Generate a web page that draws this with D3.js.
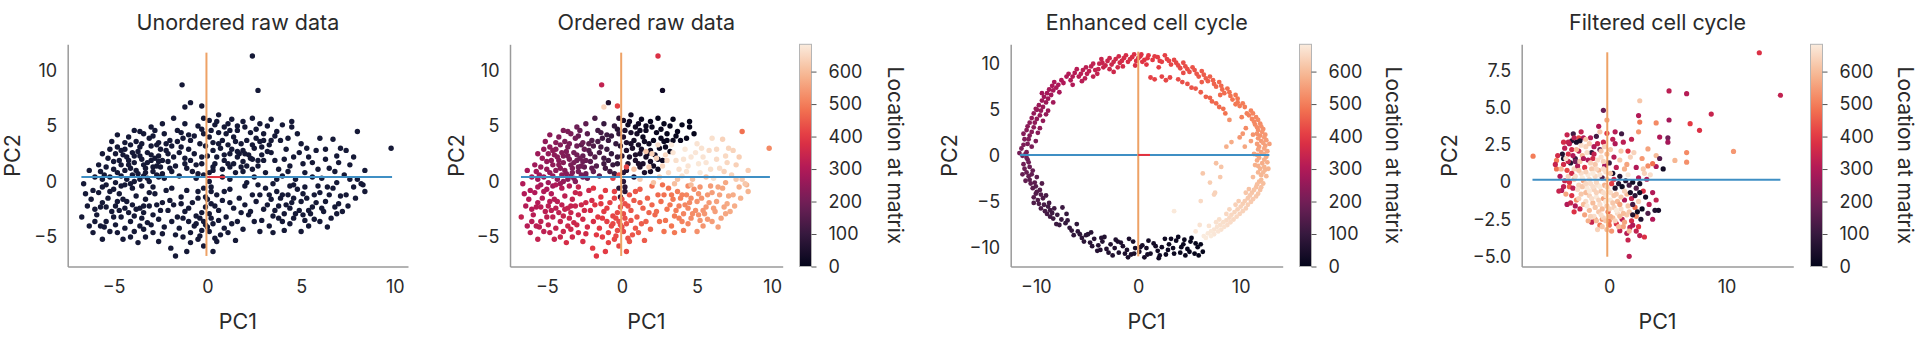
<!DOCTYPE html>
<html>
<head>
<meta charset="utf-8">
<script src="https://cdn.jsdelivr.net/npm/d3@7"></script>
<style>
  body { margin: 0; background: #fff; }
  text { font-family: Inter, "Open Sans", sans-serif; fill: #2a2a2a; }
</style>
</head>
<body>
<script>
// panel titles
var titles = ["Unordered raw data", "Ordered raw data", "Enhanced cell cycle", "Filtered cell cycle"];

// raw PCA projection: [PC1, PC2, location at matrix] (same cells in the first two panels)
var rawCells = [
  [0.1,5.5,40],[0.4,5.1,25],[0.9,4.9,30],[1.3,5.6,15],[0.6,4.4,45],[0.1,4.0,60],[0.8,3.7,35],[1.4,4.0,20],[1.9,5.4,10],[2.8,5.2,8],
  [3.4,5.6,5],[4.5,5.4,3],[4.5,4.9,6],[4.8,4.3,4],[4.3,3.9,9],[3.9,3.7,12],[3.4,3.7,14],[2.9,3.1,18],[2.5,3.0,22],[2.1,3.7,17],
  [1.8,3.4,28],[1.9,2.8,33],[2.2,2.4,26],[1.9,1.8,38],[2.4,1.1,19],[1.9,0.9,42],[3.2,2.7,11],[0.3,2.8,55],[1.2,2.5,48],[0.4,1.6,62],
  [0.1,0.8,70],[0.1,0.0,75],[0.2,-0.5,78],[-0.2,-0.6,82],[0.2,-0.9,74],[-0.1,-1.4,80],[1.2,1.3,44],[1.5,0.8,50],[0.7,3.0,52],[1.0,4.3,36],
  [1.6,4.6,24],[2.3,4.4,16],[2.6,3.9,13],[3.0,4.3,9],[1.1,3.3,41],[0.5,2.2,58],[0.9,1.9,54],[1.6,2.2,39],[2.7,1.9,21],[0.3,3.5,57],
  [-0.3,4.7,66],[-0.1,3.2,68],[1.4,1.6,46],[2.0,4.9,12],[3.7,4.5,7],[0.6,6.0,32],[1.1,5.2,29],[-0.9,7.1,60],[2.7,8.2,30],[0.8,0.4,64],
  [0.5,5.4,34],[1.6,5.0,20],[2.4,5.7,8],[1.2,4.6,26],[0.2,4.6,50],[2.6,4.7,11],[3.2,5.0,7],[4.0,5.1,4],[3.6,4.1,10],[2.8,3.6,15],
  [1.5,3.6,30],[0.6,3.4,46],[1.3,2.9,40],[2.4,2.0,24],[1.1,1.6,50],[0.3,1.0,66],[2.1,1.4,30],[3.0,3.7,12],[0.9,2.4,52],[1.7,2.5,36],
  [0.0,2.3,70],[-0.3,1.6,86],
  [-1.6,4.6,120],[-0.9,3.7,105],[-2.0,3.7,140],[-1.4,3.1,125],[-0.7,2.5,98],[-2.2,2.8,150],[-1.8,2.2,145],[-0.9,1.9,110],[-2.5,1.3,170],[-1.2,5.2,100],
  [-0.5,5.0,92],[-2.3,4.3,155],[-1.0,4.2,112],[-0.4,3.4,95],[-1.5,2.6,130],[-2.7,3.3,165],[-2.1,1.8,160],[-1.1,1.2,118],[-0.6,1.5,102],[-1.9,0.9,175],
  [-0.3,2.2,96],[-1.3,3.9,115],[-2.6,2.3,172],[-2.9,4.1,180],[-1.7,1.4,148],[-0.8,0.9,122],[-2.4,0.7,185],[-1.0,2.9,108],[-0.2,4.3,90],[-1.9,3.2,142],
  [-2.8,4.6,176],[-2.2,3.4,158],[-1.6,3.6,132],[-1.2,2.1,120],[-2.0,1.2,168],[-2.3,0.3,182],[-1.5,0.5,160],[-3.0,4.9,190],[-2.4,5.2,165],[-1.8,5.7,130],
  [-1.4,4.4,124],[-0.7,4.1,100],[-0.2,5.7,80],[-2.1,2.5,150],[-1.2,1.6,116],[-0.5,0.7,112],
  [-4.2,4.0,225],[-3.6,3.1,210],[-4.7,1.9,245],[-5.4,1.3,262],[-5.1,3.6,250],[-3.2,2.6,200],[-3.9,2.3,222],[-4.4,2.9,235],[-3.0,1.9,195],[-3.4,1.5,212],
  [-4.1,1.2,240],[-4.8,0.8,258],[-5.2,0.4,268],[-3.7,0.7,230],[-2.9,0.9,205],[-3.2,0.3,226],[-4.3,0.2,252],[-4.9,-0.1,272],[-5.6,0.2,275],[-3.8,3.6,215],
  [-3.1,3.9,198],[-2.6,3.5,188],[-4.6,1.5,248],[-3.5,2.0,218],[-2.8,2.1,192],[-3.9,1.7,232],[-4.5,2.4,242],[-5.0,1.8,256],[-3.3,1.2,214],[-2.7,1.4,196],
  [-3.6,0.2,236],[-2.6,0.4,204],[-4.0,0.6,244],[-5.4,-0.3,280],[-4.6,-0.4,270],[-3.0,3.2,194],[-3.7,2.7,220],[-4.9,2.5,254],[-2.5,2.9,186],[-3.4,4.3,208],
  [-4.4,3.5,238],[-5.7,0.9,276],[-3.1,0.0,228],[-2.4,1.9,184],[-4.2,1.9,234],
  [-4.4,1.0,246],[-4.0,2.6,228],[-3.5,3.4,212],[-3.0,2.4,197],[-2.7,0.6,201],[-3.3,0.8,219],[-3.8,1.0,233],[-4.2,1.5,238],[-4.6,0.5,258],[-5.0,1.1,260],
  [-5.3,2.1,262],[-5.5,0.6,270],[-4.8,3.1,246],[-4.1,3.3,226],[-3.6,4.5,212],[-3.9,0.0,250],[-4.6,2.8,244],[-5.8,1.5,272],[-3.2,1.7,210],[-2.6,1.8,190],
  [-3.6,2.3,216],[-4.3,2.2,236],[-5.2,2.9,254],[-3.9,4.6,218],[-4.8,4.2,240],[-3.4,0.5,224],[-4.1,-0.2,262],[-2.9,1.3,200],[-5.6,2.5,266],[-6.0,0.4,282],
  [-6.3,1.0,284],
  [-6.6,-0.2,300],[-5.6,-0.5,296],[-6.2,-1.6,305],[-4.9,-2.2,318],[-4.2,-2.8,328],[-3.1,-2.2,340],[-3.6,-4.0,352],[-6.7,-3.2,330],[-6.3,-4.0,312],[-5.6,-5.2,332],
  [-3.7,-5.5,368],[-5.8,-1.0,298],[-5.3,-1.5,308],[-4.7,-1.1,302],[-4.3,-1.8,316],[-3.8,-1.3,322],[-3.3,-1.6,334],[-2.8,-1.1,345],[-2.4,-1.9,356],[-5.1,-2.7,320],
  [-4.6,-3.2,326],[-3.9,-3.1,338],[-3.4,-2.8,342],[-2.9,-3.0,350],[-5.7,-2.3,310],[-5.9,-3.0,314],[-5.4,-3.6,324],[-4.9,-3.9,330],[-4.4,-4.2,336],[-3.2,-3.7,348],
  [-2.6,-3.4,358],[-2.1,-2.6,362],[-4.0,-0.6,306],[-3.5,-0.4,312],[-2.9,-0.5,340],[-4.4,-0.3,300],[-5.0,-0.7,294],[-6.0,-2.5,308],[-4.1,-5.0,344],[-2.9,-4.6,360],
  [-2.3,-4.1,366],[-5.2,-4.5,322],[-3.6,-2.4,336],[-4.7,-2.6,318],[-2.2,-0.8,350],[-1.9,-3.6,372],[-4.5,-5.2,340],[-3.3,-5.0,356],[-6.1,-0.8,302],[-5.5,-4.1,318],
  [-6.4,-2.2,306],[-6.0,-3.6,312],[-5.4,-2.3,314],[-5.0,-3.2,322],[-4.5,-1.6,310],[-4.0,-2.1,326],[-3.5,-3.3,344],[-3.0,-3.9,352],[-2.5,-2.6,358],[-2.0,-1.7,364],
  [-4.8,-4.6,332],[-3.9,-4.5,346],[-5.7,-4.0,318],[-6.5,-1.1,300],[-5.2,-0.9,300],[-3.4,-2.2,336],[-2.7,-2.1,352],[-4.1,-3.6,338],[-5.6,-1.9,306],[-3.8,-2.5,332],
  [-2.4,-4.7,368],[-4.4,-2.4,320],[-6.1,-4.6,320],[-3.1,-1.0,338],[-4.8,-1.8,312],[-2.6,-5.4,372],[-3.4,-4.3,350],
  [-1.95,-6.0,400],[-1.7,-6.7,392],[-1.3,-5.0,405],[-0.5,-5.2,420],[-0.4,-4.9,422],[0.5,-5.4,440],[1.1,-4.6,452],[-1.5,-4.2,398],[-1.0,-3.6,408],[-0.6,-3.1,415],
  [-0.2,-3.6,426],[0.0,-4.1,430],[-0.3,-4.4,428],[0.1,-2.9,432],[0.3,-3.8,436],[-0.1,-2.3,425],[0.6,-2.6,442],[1.0,-3.2,448],[1.4,-2.4,456],[0.8,-1.7,446],
  [1.7,-1.5,462],[-0.8,-1.9,410],[-1.4,-1.4,395],[-1.8,-2.1,388],[-1.1,-0.8,402],[-0.5,-0.9,412],[0.5,-1.2,438],[1.2,-0.7,450],[2.0,-2.1,466],[1.6,-3.6,458],
  [0.9,-4.2,446],[-1.2,-2.7,404],[-0.7,-4.0,418],[2.2,-3.0,468],[1.9,-4.3,464],[-1.6,-3.2,394],[0.4,-5.1,438],[-0.9,-5.5,414],[2.4,-1.2,470],[0.0,-1.6,430],
  [-1.9,-0.6,385],[2.4,11.3,380],[-0.3,6.8,410],[-0.2,0.6,420],[0.3,1.3,415],[-0.6,0.3,408],[-1.35,8.7,330],
  [-0.3,-2.8,424],[0.2,-3.3,434],[-0.1,-3.9,428],[0.1,-4.5,432],[-0.4,-3.3,422],[0.4,-2.2,438],[-0.5,-1.5,414],[-1.0,-2.4,406],[-1.3,-3.3,400],[-0.9,-4.6,412],
  [0.6,-3.5,440],[1.3,-3.8,452],[0.7,-4.8,442],[1.8,-2.8,462],[1.2,-1.9,452],[-1.7,-4.8,396],[-0.2,-5.8,418],[0.9,-0.9,444],[-1.4,-2.0,398],[0.2,-2.0,434],
  [-0.6,-3.8,418],[1.5,-5.3,450],[-1.1,-6.3,402],[0.3,-6.3,426],
  [2.6,-1.8,478],[3.0,-2.5,488],[3.4,-1.6,494],[3.8,-2.2,505],[4.1,-2.9,512],[4.5,-1.9,520],[4.9,-2.6,528],[5.3,-1.5,536],[5.6,-2.3,542],[6.0,-1.0,550],
  [6.3,-1.8,556],[6.7,-0.6,566],[7.0,-2.0,570],[7.4,-1.2,576],[7.8,-0.5,582],[8.4,-0.9,588],[2.9,-3.5,484],[3.5,-3.1,496],[4.0,-3.6,508],[4.6,-3.3,522],
  [5.1,-3.0,532],[5.7,-3.4,544],[6.2,-2.7,552],[6.6,-3.3,560],[4.1,-4.4,500],[3.3,-4.0,490],[5.4,-4.0,538],[2.3,-2.7,474],[3.7,-0.9,500],[4.3,-1.2,516],
  [4.8,-0.7,526],[5.1,-1.1,534],[5.9,-0.4,548],[3.1,-0.6,486],[2.7,-0.3,480],[6.5,-1.2,560],[7.2,-2.7,572],[5.5,-2.9,540],[4.4,-2.4,518],[3.9,-1.5,506],
  [8.0,4.5,480],[9.8,3.0,520],[6.9,-0.1,568],[5.0,-4.5,530],[2.0,-0.4,476],
  [3.2,-2.1,490],[3.6,-2.6,498],[4.2,-2.1,514],[4.7,-2.9,524],[5.0,-1.8,532],[5.4,-2.6,538],[5.8,-1.9,546],[6.1,-2.4,552],[4.4,-3.8,516],[3.8,-3.3,502],
  [5.2,-3.5,534],[6.0,-3.6,548],[6.9,-2.9,566],[7.5,-2.2,576],[4.0,-1.2,508],[4.6,-1.5,520],[3.3,-1.2,490],[2.8,-1.2,482],[5.7,-1.2,544],[6.4,-0.5,562],
  [7.1,-1.3,572],[7.9,-1.5,584],[8.3,-0.3,590],[6.8,-2.3,564],[5.2,-0.5,540],[4.4,-0.4,524],[3.5,-4.6,494],[2.5,-3.6,478],[2.8,-4.5,484],[6.4,-4.1,556],
  [2.3,2.1,640],[2.7,1.4,648],[3.1,0.8,655],[3.6,1.9,662],[4.0,0.5,668],[4.4,1.4,672],[4.9,2.6,676],[5.2,0.8,680],[5.6,1.7,674],[6.1,0.3,666],
  [6.5,1.2,660],[6.9,2.3,652],[7.3,0.6,644],[7.6,1.5,636],[8.0,0.2,628],[8.2,-0.2,620],[6.7,3.8,640],[5.0,3.4,670],[4.2,2.9,678],[3.3,3.3,684],
  [2.9,2.4,650],[1.8,1.3,632],[1.2,0.2,626],[2.1,-0.1,614],[3.5,-0.2,606],[4.6,-0.3,600],[5.8,2.8,658],[7.1,3.0,646],[3.8,1.1,665],[5.4,2.2,670],
  [6.3,2.0,656],[2.5,0.4,636],[1.6,2.7,618],[0.8,1.1,610],[7.8,2.2,634],[4.7,0.2,610],[-1.2,6.7,640],[6.0,3.9,664],
  [2.4,3.3,660],[3.0,1.9,652],[3.4,2.6,672],[4.1,2.0,670],[4.6,2.2,676],[5.1,1.6,678],[5.9,1.1,664],[6.3,2.9,654],[7.0,1.7,648],[7.6,0.2,626],
  [4.3,0.9,672],[3.7,0.2,612],[5.6,0.4,616],[6.8,0.9,640],[2.0,2.5,636],[5.3,3.0,668],[7.4,2.8,642],[8.4,1.0,630]
];

// enhanced cell cycle projection: [PC1, PC2, location at matrix]
var enhancedCells = [
  [6.3,-10.4,2],[5.8,-9.9,5],[5.5,-10.6,4],[5.1,-9.3,8],[4.8,-10.1,10],[4.4,-9.6,12],[4.1,-10.5,14],[3.7,-9.2,16],[3.4,-10.0,18],[3.0,-9.6,20],
  [2.7,-10.7,22],[2.3,-9.9,25],[1.9,-10.3,28],[1.5,-9.5,30],[1.2,-10.6,32],[0.8,-10.0,35],[0.4,-9.7,38],[0.1,-10.4,40],[-0.3,-10.0,42],[-0.7,-10.7,45],
  [-1.1,-10.2,48],[-1.5,-9.8,50],[-1.9,-10.5,53],[-2.3,-10.0,56],[-2.7,-9.6,58],[-3.1,-10.1,60],[-3.5,-9.3,63],[-3.9,-9.7,66],[-4.3,-9.0,70],[-4.7,-9.4,73],
  [-5.1,-8.6,76],[-5.5,-8.9,80],[-5.9,-8.2,84],[-6.3,-8.6,88],[-6.7,-7.8,92],[-7.1,-7.3,96],[5.2,-8.9,6],[3.9,-8.8,15],[2.6,-9.0,21],[1.0,-9.2,31],
  [-0.5,-9.3,41],[-2.0,-9.3,54],[-3.3,-8.8,62],[-4.6,-8.3,74],[-2.5,-10.8,57],[0.6,-11.0,36],[-6.0,-7.4,86],[-7.0,-6.3,98],[-4.0,-10.3,68],[4.6,-10.8,11],
  [5.9,-10.8,3],[5.0,-10.4,9],[4.2,-9.9,13],[3.5,-10.6,17],[2.9,-10.2,21],[2.1,-10.8,27],[1.7,-9.8,29],[0.9,-10.7,34],[0.2,-9.9,39],[-0.4,-10.6,43],
  [-1.3,-10.6,49],[-1.7,-9.4,51],[-2.9,-10.5,59],[-3.7,-10.2,64],[-4.5,-9.8,71],[-5.3,-9.3,78],[-5.7,-8.5,82],[-6.5,-8.1,90],[-6.9,-7.0,95],[-4.9,-8.5,75],
  [-3.6,-8.9,64],[-2.2,-9.1,55],[-0.9,-9.0,46],[3.2,-9.0,19],[4.5,-9.1,12],[5.6,-9.5,4],[6.1,-9.6,1],[-1.0,-11.0,47],[2.0,-11.1,26],
  [-7.5,-6.9,102],[-7.9,-6.4,108],[-8.3,-6.8,112],[-8.6,-5.9,118],[-8.9,-6.3,122],[-9.2,-5.3,128],[-9.5,-5.7,132],[-9.3,-4.6,138],[-9.8,-4.8,142],[-10.0,-4.1,148],
  [-9.6,-3.7,152],[-10.3,-3.5,158],[-10.1,-2.9,162],[-10.6,-2.6,168],[-10.4,-2.0,174],[-10.9,-1.8,180],[-10.6,-1.2,186],[-11.2,-0.9,192],[-10.8,-0.4,196],[-8.0,-7.4,106],
  [-9.0,-4.3,130],[-8.7,-5.1,124],[-9.9,-2.3,160],[-10.2,-5.1,140],[-7.4,-5.6,110],[-11.0,-2.7,170],[-8.2,-5.7,115],[-9.4,-3.0,145],
  [-7.7,-7.5,104],[-8.4,-6.2,114],[-8.8,-5.5,120],[-9.1,-6.0,126],[-9.7,-5.2,136],[-9.5,-4.2,144],[-10.2,-4.5,150],[-10.0,-3.3,156],[-10.5,-3.0,164],[-10.7,-2.2,172],
  [-11.1,-1.4,184],[-10.3,-1.6,178],[-10.7,-0.7,190],[-8.6,-6.6,116],[-9.9,-3.9,146],[-11.3,-2.0,176],
  [-11.3,0.0,200],[-10.9,0.4,205],[-11.4,0.8,210],[-10.8,1.3,215],[-11.1,1.8,220],[-10.6,2.2,226],[-10.9,2.8,232],[-10.2,3.1,238],[-10.6,3.6,242],[-9.9,4.0,248],
  [-10.2,4.6,252],[-9.5,4.9,258],[-9.7,5.5,262],[-9.0,5.8,268],[-9.2,6.4,272],[-8.5,6.6,278],[-8.7,7.2,282],[-8.0,7.4,288],[-8.2,8.0,292],[-7.5,8.2,296],
  [-10.4,1.0,212],[-9.8,2.5,236],[-9.3,3.8,250],[-10.9,-0.2,198],[-8.8,4.9,262],[-8.3,5.8,274],[-7.7,6.9,286],[-11.6,0.3,204],[-9.6,3.0,244],[-10.0,5.1,256],
  [-11.0,0.2,202],[-11.2,1.2,214],[-10.7,1.8,222],[-11.2,2.4,228],[-10.4,2.6,234],[-10.8,3.2,238],[-10.1,3.6,246],[-10.4,4.1,250],[-9.6,4.4,256],[-9.9,5.0,258],
  [-9.3,5.3,264],[-9.4,6.0,270],[-8.8,6.2,276],[-8.9,6.8,280],[-8.3,7.1,286],[-8.4,7.6,290],[-7.8,7.7,294],[-9.0,4.5,254],[-10.0,1.6,218],[-9.4,6.8,276],
  [-7.0,8.6,300],[-6.6,8.2,304],[-6.2,9.0,308],[-5.8,8.6,312],[-5.4,9.3,318],[-5.0,8.9,322],[-4.6,9.7,326],[-4.2,9.3,330],[-3.8,10.0,336],[-3.4,9.6,340],
  [-3.0,10.3,346],[-2.6,9.9,350],[-2.2,10.5,356],[-1.8,10.1,360],[-1.4,10.6,366],[-1.0,10.2,370],[-0.6,10.7,376],[-0.2,10.3,380],[0.2,10.8,386],[0.6,10.4,390],
  [1.0,10.9,395],[-6.4,7.7,302],[-5.2,8.4,316],[-4.0,8.9,332],[-2.8,9.4,348],[-1.5,9.7,362],[-0.3,9.8,378],[0.8,9.9,392],[-7.3,7.9,298],[-3.6,10.5,342],
  [-2.0,9.6,358],[0.3,11.0,384],
  [-6.8,8.9,302],[-6.4,8.6,306],[-6.0,9.4,312],[-5.6,8.9,316],[-5.1,9.6,320],[-4.8,9.2,324],[-4.4,10.0,328],[-3.9,9.4,334],[-3.5,10.1,340],[-3.2,9.8,344],
  [-2.8,10.6,348],[-2.4,10.2,352],[-1.9,10.8,358],[-1.6,10.3,364],[-1.2,10.9,368],[-0.8,10.5,372],[-0.4,11.0,378],[0.0,10.6,382],[0.4,10.2,388],[0.9,10.6,394],
  [-5.5,8.1,314],[-4.4,8.6,328],[-2.4,9.1,352],
  [1.4,10.4,400],[1.9,10.7,404],[2.3,10.2,408],[2.8,10.5,412],[3.2,9.9,416],[3.7,10.1,420],[4.1,9.5,426],[4.6,9.7,430],[5.0,9.1,436],[5.5,9.3,440],
  [5.9,8.6,446],[6.4,8.8,450],[6.8,8.1,456],[7.3,8.2,460],[7.6,7.5,466],[8.1,7.6,470],[8.4,6.8,476],[8.9,6.9,480],[9.2,6.1,486],[9.7,6.2,490],
  [9.9,5.4,496],[10.4,5.3,500],[1.6,8.3,410],[2.3,8.6,414],[3.1,8.5,418],[3.9,8.3,424],[4.8,7.8,434],[5.6,7.3,444],[6.6,6.4,458],[7.2,5.9,466],
  [7.9,5.3,474],[8.5,4.6,484],[2.0,9.6,406],[4.4,9.0,428],[6.2,8.0,452],[8.0,6.6,472],[9.5,5.6,492],
  [1.6,10.8,402],[2.1,10.3,406],[2.6,10.9,410],[3.0,10.3,414],[3.5,10.4,418],[3.9,9.8,422],[4.4,10.1,428],[4.8,9.4,432],[5.3,9.6,438],[5.7,8.9,444],
  [6.2,9.2,448],[6.6,8.4,454],[7.0,8.6,458],[7.4,7.8,462],[7.9,8.0,468],[8.2,7.2,474],[8.7,7.3,478],[9.0,6.5,484],[9.5,6.6,488],[9.7,5.8,494],
  [10.2,5.7,498],[1.2,8.5,412],[2.7,8.2,420],[4.3,8.0,430],[5.2,7.4,440],[6.1,6.9,452],[7.0,6.3,462],[7.6,5.7,470],[8.3,5.1,480],
  [10.6,4.6,504],[11.0,4.9,508],[11.1,4.0,512],[11.5,4.2,516],[11.4,3.4,520],[11.9,3.5,524],[11.7,2.8,528],[12.2,2.9,532],[11.9,2.2,536],[12.4,2.3,540],
  [12.0,1.6,544],[12.5,1.7,548],[11.8,1.0,552],[12.4,1.1,556],[12.0,0.4,560],[12.6,0.5,564],[11.8,-0.2,568],[12.5,-0.1,572],[12.1,-0.8,576],[12.6,-0.7,580],
  [11.9,-1.4,584],[12.4,-1.5,588],[12.0,-2.1,592],[12.5,-2.2,596],[10.5,3.0,520],[9.9,2.0,540],[8.9,3.9,536],[10.4,1.0,566],[8.6,1.0,578],[9.1,1.5,574],
  [11.3,0.2,562],[11.2,2.3,534],[11.4,-1.0,580],[10.1,4.2,506],
  [10.8,4.4,506],[11.2,4.6,510],[11.3,3.7,518],[11.7,3.9,522],[11.6,3.1,526],[12.0,3.2,530],[11.6,2.4,534],[12.1,2.6,538],[11.7,1.9,542],[12.3,2.0,546],
  [11.6,1.3,550],[12.2,1.4,554],[11.7,0.7,558],[12.3,0.8,562],[11.6,0.1,566],[12.3,0.2,570],[11.6,-0.5,574],[12.3,-0.4,578],[11.7,-1.1,582],[12.3,-1.2,586],
  [11.7,-1.8,590],[12.2,-1.8,594],[10.2,2.4,540],[11.0,1.6,550],[12.8,1.3,552],[12.7,-1.4,586],
  [11.8,-2.8,600],[12.2,-3.0,604],[11.5,-3.4,608],[11.9,-3.7,612],[11.1,-4.0,616],[11.5,-4.4,620],[10.7,-4.6,624],[11.0,-5.0,628],[10.2,-5.2,632],[10.5,-5.7,636],
  [9.7,-5.8,640],[9.9,-6.3,644],[9.1,-6.4,648],[9.3,-6.9,652],[8.6,-7.0,656],[8.7,-7.5,660],[8.0,-7.5,664],[8.1,-8.0,668],[7.4,-8.0,672],[7.4,-8.5,676],
  [6.8,-8.4,680],[6.6,-8.9,684],[10.8,-3.6,612],[9.8,-4.9,630],[8.9,-5.8,646],[7.9,-6.9,662],[6.3,-1.9,620],[7.6,-0.8,610],[8.1,-1.2,616],[7.5,-4.0,640],
  [6.1,-4.9,654],[7.4,-4.2,642],[3.5,-6.0,680],[5.6,-8.2,676],[6.0,-7.5,670],[11.2,-2.3,602],
  [12.0,-2.6,598],[11.6,-3.1,606],[12.0,-3.4,610],[11.3,-3.7,614],[11.7,-4.1,618],[10.9,-4.3,622],[11.2,-4.7,626],[10.4,-4.9,630],[10.7,-5.3,634],[10.0,-5.5,638],
  [10.2,-6.0,642],[9.4,-6.1,646],[9.6,-6.6,650],[8.9,-6.7,654],[9.0,-7.2,658],[8.3,-7.2,662],[8.4,-7.7,666],[7.7,-7.7,670],[7.8,-8.2,674],[7.1,-8.2,678],
  [7.1,-8.7,682],[6.4,-8.7,684],[10.5,-4.0,620],[9.5,-5.3,636],[8.6,-6.3,650],[7.6,-7.2,666],[6.9,-7.6,672],[8.0,-2.3,624],[7.0,-2.9,632]
];

// filtered cell cycle projection: [PC1, PC2, location at matrix]
var filteredCells = [
  [12.8,8.74,380],[14.6,5.87,330],[5.1,6.16,320],[6.6,5.98,310],[2.6,5.5,620],[8.7,4.6,340],[-0.5,4.85,180],[2.5,4.5,300],[2.6,4.06,500],[4.0,4.0,520],
  [5.1,4.2,280],[6.9,3.95,400],[7.7,3.5,380],[-0.9,3.77,300],[-0.2,4.2,560],[1.05,3.27,120],[2.5,3.4,540],[4.3,3.05,300],[5.0,3.0,200],[5.0,2.7,280],
  [0.5,2.6,300],[1.6,2.1,380],[1.0,2.1,620],[1.8,1.7,640],[3.3,2.25,560],[4.0,1.8,600],[4.3,1.6,150],[6.6,2.0,520],[6.6,1.35,530],[5.6,1.47,590],
  [10.6,2.08,540],[4.6,0.9,30],[4.0,1.06,300],[3.7,1.25,480],[3.3,1.1,520],[2.3,1.0,300],[3.0,0.6,640],[-6.5,1.76,500],[0.9,-3.27,330],[1.5,-3.45,310],
  [1.76,-3.05,330],[2.6,-3.6,320],[3.0,-3.7,380],[1.7,-5.0,320],[2.5,-3.0,390],[-1.2,-2.5,520],[-0.6,-2.5,530],[0,-2.6,500],[-4.06,-0.56,300],[-4.5,1.47,500],
  [-3.9,1.6,40],[-3.07,3.27,120],[-3.2,2.8,60],[-2.6,3.0,420],[-1.6,3.0,300],
  [-3.8,2.3,320],[-3.5,1.9,380],[-3.2,2.2,360],[-2.9,1.6,120],[-2.6,2.1,330],[-2.3,1.8,600],[-2.0,2.4,640],[-1.8,1.5,300],[-1.5,2.0,90],[-1.2,1.2,620],
  [-1.0,2.6,340],[-0.7,1.7,660],[-0.4,1.1,280],[-3.9,1.2,360],[-3.6,0.8,420],[-3.3,1.3,60],[-3.0,0.9,640],[-2.7,1.1,300],[-2.4,0.6,660],[-2.1,1.0,380],
  [-1.8,0.5,680],[-1.5,0.9,620],[-1.2,0.4,650],[-0.9,0.8,600],[-0.6,0.3,140],[-0.3,0.7,660],[0.0,1.3,100],[0.3,0.6,40],[0.6,1.0,320],[0.9,0.4,60],
  [-4.2,0.4,300],[-3.8,0.1,340],[-3.4,-0.3,460],[-3.0,0.2,600],[-2.6,-0.2,640],[-2.2,0.1,560],[-1.9,-0.4,680],[-1.6,-0.1,660],[-1.3,-0.5,640],[-1.0,-0.2,670],
  [-0.7,-0.6,620],[-0.4,-0.2,580],[-0.1,-0.5,680],[0.2,-0.1,400],[0.5,-0.4,50],[0.8,-0.1,80],[1.1,-0.3,20],[1.4,0.1,60],[1.7,-0.2,120],[2.0,0.0,30],
  [2.3,-0.4,150],[2.6,-0.1,40],[-3.2,-0.9,380],[-2.8,-1.2,520],[-2.4,-0.8,620],[-2.0,-1.3,660],[-1.7,-0.9,640],[-1.4,-1.4,600],[-1.1,-1.0,680],[-0.8,-1.5,660],
  [-0.5,-1.1,560],[-0.2,-1.6,620],[0.1,-1.2,680],[0.4,-1.7,640],[0.7,-1.3,600],[1.0,-1.8,660],[1.3,-1.2,300],[1.6,-1.6,620],[1.9,-1.1,340],[2.2,-1.7,480],
  [2.5,-1.3,640],[2.8,-1.8,20],[3.1,-1.0,30],[-2.5,-1.8,340],[-2.1,-2.2,560],[-1.7,-1.9,600],[-1.3,-2.3,660],[-0.9,-2.0,620],[-0.5,-2.4,640],[-0.1,-2.0,450],
  [0.3,-2.4,600],[0.7,-2.1,660],[1.1,-2.5,320],[1.5,-2.2,620],[1.9,-2.6,360],[2.3,-2.3,520],[2.7,-2.5,60],[-1.5,-2.7,340],[-0.8,-2.9,500],[0.0,-2.9,480],
  [0.6,-2.8,380],[1.2,-3.0,560],[-3.6,-1.5,300],[-4.3,-0.6,340],[-3.0,-2.0,380],[-4.0,1.9,60],[-3.4,2.6,300],[-2.8,2.7,40],[-2.2,3.0,300],[-1.7,2.6,630],
  [-1.1,3.1,120],[-0.5,2.7,350],[0.1,2.2,620],[-0.2,3.3,400],[0.4,1.7,310],[0.9,1.5,620],[1.3,0.9,580],[1.6,0.5,680],[1.2,2.7,320],[1.9,2.9,330],
  [2.1,2.0,640],[2.8,1.6,540],[3.2,0.2,300],[2.9,-0.6,380],[3.4,-1.5,320],[3.3,-2.1,140],[3.7,-2.5,300],[3.9,-1.9,60],[-2.0,-0.7,600],[-1.1,0.0,650],
  [-0.3,-0.9,670],[0.6,-0.8,620],[1.5,-0.8,600],[-2.9,1.4,200],[-1.4,1.6,360],[-0.8,2.2,180],[-3.1,-0.4,320],[-4.5,0.9,480],[-3.7,-0.8,560],[-2.4,2.5,660],
  [-0.6,-3.0,620],[-1.8,-2.6,580],[1.7,-3.3,600],[0.2,-3.3,540],
  [-3.5,1.4,340],[-3.1,1.8,300],[-2.8,2.2,600],[-2.5,1.4,620],[-2.2,1.6,300],[-1.9,2.0,660],[-1.6,1.3,640],[-1.3,1.9,330],[-1.0,1.5,660],[-0.7,2.1,620],
  [-0.5,1.4,640],[-0.2,1.9,600],[-3.7,1.6,660],[-4.1,0.9,600],[-3.5,0.4,640],[-3.2,0.6,360],[-2.9,0.4,660],[-2.6,0.8,620],[-2.3,0.3,680],[-2.0,0.7,640],
  [-1.7,0.2,660],[-1.4,0.6,680],[-1.1,0.9,650],[-0.8,0.5,670],[-0.5,0.9,660],[-0.2,0.2,640],[0.1,0.6,620],[0.4,0.2,360],[-2.7,-0.5,660],[-2.3,-0.3,620],
  [-2.0,-0.1,650],[-1.7,-0.6,680],[-1.4,-0.3,660],[-1.1,-0.7,640],[-0.8,-0.3,680],[-0.5,-0.7,660],[-0.2,-0.3,640],[0.1,-0.7,660],[0.4,-0.9,620],[-2.6,-1.1,640],
  [-2.2,-1.5,600],[-1.9,-1.6,680],[-1.5,-1.1,660],[-1.2,-1.7,620],[-0.9,-1.2,640],[-0.6,-1.8,600],[-0.3,-1.3,680],[0.0,-1.8,640],[0.3,-1.4,620],[0.6,-1.9,680],
  [0.9,-1.5,560],[1.2,-2.1,600],[-1.6,-2.3,640],[-1.1,-2.6,600],[-0.7,-2.2,660],[-0.3,-2.6,620],[0.1,-2.3,580],[0.5,-2.6,640],[0.9,-2.3,600],[1.3,-2.7,560],
  [1.7,-2.0,620],[2.0,-2.2,60],[2.4,-2.0,20],[2.0,-1.5,120],[1.8,-0.7,40],[2.2,-0.9,80],[2.6,-0.7,30],[1.3,-0.6,640],[1.0,-1.0,620],[-3.4,0.0,380],
  [-3.9,-0.3,320],[-3.3,-1.4,340],[-2.9,-1.6,300],[-3.5,2.7,330],[-3.9,2.7,360],[-2.5,2.8,40],[-3.0,3.0,320],[-2.0,2.9,620],[-1.3,2.4,300],[-0.4,2.4,640],
  [0.3,2.9,320],[-0.8,3.4,620],[-2.4,3.4,330],[-3.6,3.2,340],[-4.4,1.8,360],[-4.6,1.2,340],[-1.0,-3.2,640],[-0.2,-3.2,600],[0.8,-3.0,600],[2.3,-3.3,330],
  [2.0,-2.9,300],[1.6,-3.9,340],[0.5,3.4,310],[1.5,1.2,560],[2.5,0.3,300],[2.9,0.9,620],[3.5,0.5,660],[3.7,-0.7,300],[4.0,-1.2,330],[4.2,-1.9,40]
];

// tick values
var rawTicksX = [-5, 0, 5, 10];
var rawTicksY = [-5, 0, 5, 10];
var enhancedTicksX = [-10, 0, 10];
var enhancedTicksY = [-10, -5, 0, 5, 10];
var filteredTicksX = [0, 10];
var filteredTicksY = [-5, -2.5, 0, 2.5, 5, 7.5];
var locationTicks = [0, 100, 200, 300, 400, 500, 600];
var locationMax = 684;

// principal direction guides: horizontal [x0, x1, y], vertical [y0, y1, x], short red [x0, x1, y]
var rawGuideH = [-6.72, 9.85, 0.4], rawGuideV = [-6.7, 11.6, -0.05], rawGuideR = [0, 0.95, 0.4];
var enhancedGuideH = [-11.55, 12.8, 0.1], enhancedGuideV = [-10.9, 11.3, 0], enhancedGuideR = [0, 1.15, 0.1];
var filteredGuideH = [-6.55, 14.6, 0.16], filteredGuideV = [-5.03, 8.77, -0.17];

// seaborn "rocket" colour map
var rocketStops = ["#03051a", "#35193e", "#701f57", "#ad1759", "#e13342", "#f37651", "#f6b48f", "#faebdd"];
var rocket = d3.scaleLinear()
    .domain(d3.range(rocketStops.length).map(function(i) { return i / (rocketStops.length - 1); }))
    .range(rocketStops)
    .interpolate(d3.interpolateRgb);
var locColor = function(v) { return rocket(Math.min(1, v / locationMax)); };

var width = 1920, height = 342;
var plotTop = 44.3, plotBottom = 266.5;

var panels = [
  { title: titles[0], cells: rawCells, colored: false, x0: 67.7, x1: 408, xDom: [-7.45, 10.7], yDom: [-7.65, 12.35],
    xt: rawTicksX, yt: rawTicksY, h: rawGuideH, v: rawGuideV, r: rawGuideR, yLabelX: 20, rad: 2.7 },
  { title: titles[1], cells: rawCells, colored: true, x0: 510, x1: 782.7, xDom: [-7.45, 10.7], yDom: [-7.65, 12.35],
    xt: rawTicksX, yt: rawTicksY, h: rawGuideH, v: rawGuideV, r: null, yLabelX: 463.5, rad: 2.7,
    bar: { x: 799.5, label: 888 } },
  { title: titles[2], cells: enhancedCells, colored: true, x0: 1010.7, x1: 1282.7, xDom: [-12.45, 14.1], yDom: [-12.0, 12.1],
    xt: enhancedTicksX, yt: enhancedTicksY, h: enhancedGuideH, v: enhancedGuideV, r: enhancedGuideR, yLabelX: 956.7, rad: 2.4,
    bar: { x: 1299.5, label: 1386 } },
  { title: titles[3], cells: filteredCells, colored: true, x0: 1521.7, x1: 1793.3, xDom: [-7.47, 15.7], yDom: [-5.69, 9.31],
    xt: filteredTicksX, yt: filteredTicksY, h: filteredGuideH, v: filteredGuideV, r: null, yLabelX: 1457.3, rad: 2.6,
    yFmt: function(d) { return d === 0 ? "0" : d3.format(".1f")(d); },
    bar: { x: 1810.5, label: 1898 } }
];

var svg = d3.select("body").append("svg").attr("width", width).attr("height", height);

// shared gradient for the colour bars
var grad = svg.append("defs").append("linearGradient")
    .attr("id", "rocket-grad")
    .attr("x1", 0).attr("y1", 1).attr("x2", 0).attr("y2", 0);
d3.range(0, 1.0001, 0.05).forEach(function(t) {
  grad.append("stop").attr("offset", t).attr("stop-color", rocket(t));
});

panels.forEach(function(p) {
  var x = d3.scaleLinear().domain(p.xDom).range([p.x0, p.x1]);
  var y = d3.scaleLinear().domain(p.yDom).range([plotBottom, plotTop]);
  var g = svg.append("g");

  g.append("g").selectAll("circle")
    .data(p.cells)
    .enter().append("circle")
      .attr("cx", function(d) { return x(d[0]); })
      .attr("cy", function(d) { return y(d[1]); })
      .attr("r", p.rad)
      .attr("fill", function(d) { return p.colored ? locColor(d[2]) : "#151937"; });

  // guide lines on top of the cells
  g.append("line")
    .attr("x1", x(p.h[0])).attr("x2", x(p.h[1]))
    .attr("y1", y(p.h[2])).attr("y2", y(p.h[2]))
    .attr("stroke", "#3f8fc4").attr("stroke-width", 2);
  g.append("line")
    .attr("x1", x(p.v[2])).attr("x2", x(p.v[2]))
    .attr("y1", y(p.v[0])).attr("y2", y(p.v[1]))
    .attr("stroke", "#eea266").attr("stroke-width", 2);
  if (p.r) {
    g.append("line")
      .attr("x1", x(p.r[0])).attr("x2", x(p.r[1]))
      .attr("y1", y(p.r[2])).attr("y2", y(p.r[2]))
      .attr("stroke", "#e5313d").attr("stroke-width", 2);
  }

  var xAxis = g.append("g")
    .attr("transform", "translate(0," + plotBottom + ")")
    .call(d3.axisBottom(x).tickValues(p.xt).tickSize(0).tickPadding(14).tickFormat(d3.format("d")));
  var yAxis = g.append("g")
    .attr("transform", "translate(" + p.x0 + ",0)")
    .call(d3.axisLeft(y).tickValues(p.yt).tickSize(0).tickPadding(10.5).tickFormat(p.yFmt || d3.format("d")));
  [xAxis, yAxis].forEach(function(a) {
    a.select(".domain").attr("stroke", "#9a9a9a").attr("stroke-width", 1.5);
    a.selectAll("text").attr("font-size", 18).attr("fill", "#2a2a2a");
  });

  var cx = (p.x0 + p.x1) / 2;
  g.append("text").attr("x", cx).attr("y", 30).attr("text-anchor", "middle")
    .attr("font-size", 21.5).text(p.title);
  g.append("text").attr("x", cx).attr("y", 329).attr("text-anchor", "middle")
    .attr("font-size", 21.5).text("PC1");
  g.append("text")
    .attr("transform", "translate(" + p.yLabelX + "," + ((plotTop + plotBottom) / 2) + ") rotate(-90)")
    .attr("text-anchor", "middle").attr("font-size", 21.5).text("PC2");

  if (p.bar) {
    var c = d3.scaleLinear().domain([0, locationMax]).range([plotBottom, plotTop]);
    g.append("rect")
      .attr("x", p.bar.x).attr("y", plotTop).attr("width", 12).attr("height", plotBottom - plotTop)
      .attr("fill", "url(#rocket-grad)").attr("stroke", "#b5b5b5").attr("stroke-width", 1);
    var cAxis = g.append("g")
      .attr("transform", "translate(" + (p.bar.x + 12) + ",0)")
      .call(d3.axisRight(c).tickValues(locationTicks).tickSize(5).tickPadding(12));
    cAxis.select(".domain").remove();
    cAxis.selectAll("line").attr("stroke", "#555");
    cAxis.selectAll("text").attr("font-size", 18).attr("fill", "#2a2a2a");
    g.append("text")
      .attr("transform", "translate(" + p.bar.label + "," + ((plotTop + plotBottom) / 2) + ") rotate(90)")
      .attr("text-anchor", "middle").attr("font-size", 21).text("Location at matrix");
  }
});
</script>
</body>
</html>
